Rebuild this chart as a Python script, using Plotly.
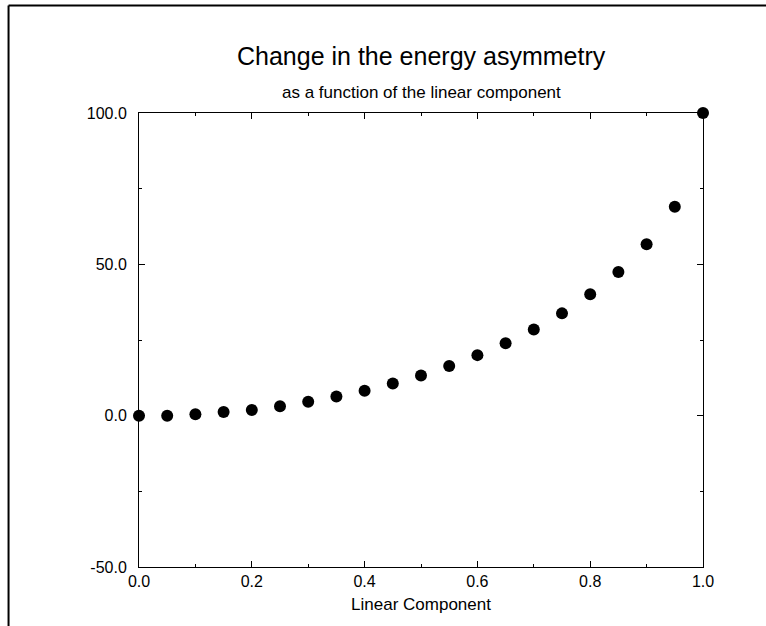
import plotly.graph_objects as go

# Data
linear_component = [0.0, 0.05, 0.10, 0.15, 0.20, 0.25, 0.30, 0.35, 0.40, 0.45, 0.50,
                    0.55, 0.60, 0.65, 0.70, 0.75, 0.80, 0.85, 0.90, 0.95, 1.00]
asymmetry_change = [0.0, 0.0, 0.5, 1.2, 1.9, 3.1, 4.6, 6.3, 8.2, 10.6, 13.3,
                    16.4, 20.0, 23.9, 28.5, 33.8, 40.1, 47.5, 56.6, 69.0, 100.0]

x_tick_vals = [0.0, 0.2, 0.4, 0.6, 0.8, 1.0]
x_tick_text = ["0.0", "0.2", "0.4", "0.6", "0.8", "1.0"]
x_minor_vals = [0.1, 0.3, 0.5, 0.7, 0.9]
y_tick_vals = [-50, 0, 50, 100]
y_tick_text = ["-50.0", "0.0", "50.0", "100.0"]
y_minor_vals = [-25, 25, 75]

title_text = "Change in the energy asymmetry"
subtitle_text = "as a function of the linear component"
x_title = "Linear Component"

FONT = "Liberation Sans, Arial, Helvetica, sans-serif"

fig = go.Figure()
fig.add_trace(go.Scatter(
    x=linear_component, y=asymmetry_change, mode="markers",
    marker=dict(color="black", size=12, line=dict(width=0)),
    cliponaxis=False, showlegend=False,
))

axis_common = dict(
    showgrid=False, zeroline=False, showline=True, linecolor="black", linewidth=1,
    mirror="ticks", ticks="inside", ticklen=6, tickwidth=1, tickcolor="black",
    tickfont=dict(family=FONT, size=16, color="black"),
)

fig.update_xaxes(
    range=[0, 1], tickmode="array", tickvals=x_tick_vals, ticktext=x_tick_text,
    minor=dict(tickmode="array", tickvals=x_minor_vals, ticks="inside", ticklen=3,
               tickcolor="black", tickwidth=1),
    title=dict(text=x_title, font=dict(family=FONT, size=17, color="black"), standoff=8),
    **axis_common,
)
fig.update_yaxes(
    range=[-50, 100], tickmode="array", tickvals=y_tick_vals, ticktext=y_tick_text,
    minor=dict(tickmode="array", tickvals=y_minor_vals, ticks="inside", ticklen=3,
               tickcolor="black", tickwidth=1),
    ticklabelstandoff=8,
    **axis_common,
)

fig.add_annotation(text=title_text, xref="paper", yref="paper", x=0.5, y=1.125,
                   xanchor="center", yanchor="middle", showarrow=False,
                   font=dict(family=FONT, size=25, color="black"))
fig.add_annotation(text=subtitle_text, xref="paper", yref="paper", x=0.5, y=1.046,
                   xanchor="center", yanchor="middle", showarrow=False,
                   font=dict(family=FONT, size=17, color="black"))

# outer frame (top and left edges visible in the reference)
fig.add_shape(type="line", xref="paper", yref="paper", x0=-0.2313, x1=1.2, y0=1.2369, y1=1.2369,
              line=dict(color="black", width=2))
fig.add_shape(type="line", xref="paper", yref="paper", x0=-0.2313, x1=-0.2313, y0=1.2369, y1=-0.2,
              line=dict(color="black", width=2))

fig.update_layout(
    width=766, height=626,
    margin=dict(l=139, r=63, t=113, b=59),
    paper_bgcolor="white", plot_bgcolor="white",
    font=dict(family=FONT, color="black"),
    hovermode=False,
)

fig.write_html("out.html", config={"displayModeBar": False},
               post_script="document.body.style.margin='0';document.body.style.overflow='hidden';")
